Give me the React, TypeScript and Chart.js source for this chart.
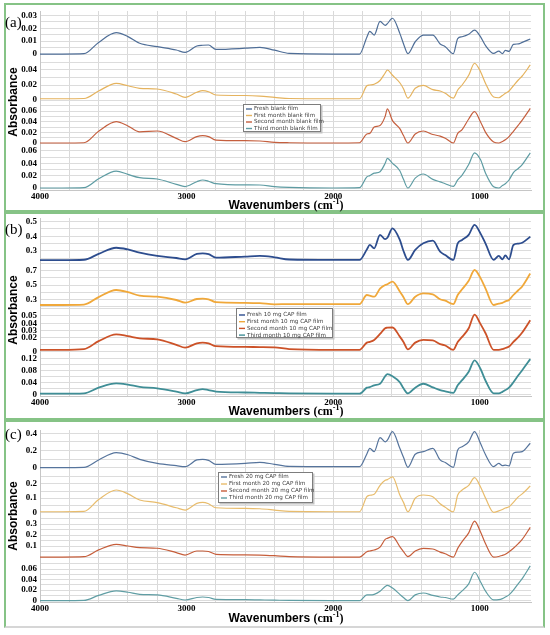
import React, { useEffect, useRef } from 'react';
import { Chart, registerables } from 'chart.js';

Chart.register(...registerables);

// FTIR spectra (absorbance vs wavenumber, cm-1)
const wavenumbers = [
  4000, 3850, 3700, 3600, 3480, 3400, 3320, 3200, 3070, 3010,
  2930, 2890, 2850, 2800, 2600, 2500, 2400, 2300, 2000, 1820,
  1770, 1750, 1720, 1680, 1645, 1630, 1595, 1545, 1520, 1490,
  1440, 1385, 1320, 1270, 1235, 1180, 1150, 1120, 1075, 1035,
  995, 960, 905, 870, 845, 825, 800, 770, 735, 710,
  655,
];

const xTickLabels = [4000, 3000, 2000, 1000];
const xGridLines = [4000, 3800, 3600, 3400, 3200, 3000, 2800, 2600, 2400, 2200, 2000, 1800, 1600, 1400, 1200, 1000, 800];

// (a) blank film
const blankFresh = [
  0, 0, 0.0003, 0.009, 0.0165, 0.0135, 0.0083, 0.0057, 0.0031, 0.0013,
  0.0062, 0.0068, 0.007, 0.0036, 0.0045, 0.0052, 0.003, 0.0005, 0, 0,
  0.013, 0.0175, 0.0147, 0.0252, 0.0222, 0.0235, 0.0277, 0.016, 0.008, 0.0003,
  0.0095, 0.0147, 0.0147, 0.0078, 0.0057, 0.0003, 0.012, 0.0134, 0.0153, 0.0185,
  0.0134, 0.0065, 0.0005, 0.0023, 0.0003, 0.0028, 0.002, 0.0075, 0.0078, 0.009,
  0.0116,
];
const blankMonth1 = [
  0.0017, 0.0017, 0.002, 0.012, 0.0222, 0.019, 0.0156, 0.0147, 0.008, 0.0036,
  0.0103, 0.0124, 0.011, 0.0067, 0.006, 0.0053, 0.0036, 0.002, 0.0017, 0.0017,
  0.019, 0.02, 0.021, 0.026, 0.036, 0.04, 0.033, 0.023, 0.015, 0.0025,
  0.0156, 0.0195, 0.0138, 0.012, 0.009, 0.0025, 0.0133, 0.02, 0.033, 0.049,
  0.038, 0.022, 0.004, 0.003, 0.006, 0.009, 0.012, 0.019, 0.027, 0.032,
  0.0467,
];
const blankMonth2 = [
  0, 0, 0.0005, 0.022, 0.04, 0.032, 0.021, 0.0225, 0.0088, 0.0025,
  0.012, 0.0137, 0.012, 0.0056, 0.0045, 0.0038, 0.0013, 0.0005, 0, 0.0005,
  0.017, 0.018, 0.03, 0.033, 0.05, 0.064, 0.042, 0.027, 0.014, 0,
  0.017, 0.0225, 0.016, 0.013, 0.009, 0, 0.018, 0.025, 0.045, 0.059,
  0.04, 0.02, 0.002, 0, 0.003, 0.006, 0.012, 0.022, 0.034, 0.043,
  0.065,
];
const blankMonth3 = [
  0, 0, 0.0005, 0.015, 0.0275, 0.022, 0.0167, 0.0146, 0.006, 0.0024,
  0.0102, 0.013, 0.011, 0.007, 0.005, 0.0049, 0.0022, 0.001, 0, 0.0005,
  0.018, 0.02, 0.024, 0.0265, 0.04, 0.048, 0.04, 0.028, 0.014, 0,
  0.016, 0.0227, 0.014, 0.01, 0.007, 0.0027, 0.013, 0.021, 0.038, 0.057,
  0.046, 0.024, 0.002, 0, 0.004, 0.007, 0.013, 0.025, 0.032, 0.038,
  0.057,
];

// (b) 10 mg CAP film
const cap10Fresh = [
  0.237, 0.237, 0.24, 0.28, 0.322, 0.31, 0.288, 0.266, 0.252, 0.243,
  0.28, 0.284, 0.278, 0.254, 0.262, 0.266, 0.257, 0.242, 0.239, 0.239,
  0.31, 0.341, 0.318, 0.41, 0.38, 0.39, 0.454, 0.375, 0.3, 0.239,
  0.307, 0.352, 0.37, 0.295, 0.272, 0.239, 0.352, 0.375, 0.41, 0.477,
  0.42, 0.35, 0.239, 0.266, 0.243, 0.27, 0.243, 0.341, 0.35, 0.356,
  0.397,
];
const cap10Month1 = [
  0.22, 0.22, 0.225, 0.33, 0.43, 0.4, 0.35, 0.336, 0.29, 0.253,
  0.304, 0.31, 0.3, 0.26, 0.25, 0.245, 0.23, 0.232, 0.232, 0.232,
  0.36, 0.35, 0.336, 0.45, 0.5, 0.51, 0.547, 0.41, 0.33, 0.232,
  0.336, 0.383, 0.37, 0.3, 0.28, 0.232, 0.36, 0.44, 0.56, 0.71,
  0.6, 0.45, 0.22, 0.24, 0.25, 0.27, 0.29, 0.36, 0.43, 0.48,
  0.66,
];
const cap10Month2 = [
  0.003, 0.003, 0.004, 0.015, 0.0245, 0.022, 0.019, 0.0175, 0.01, 0.006,
  0.012, 0.013, 0.012, 0.008, 0.007, 0.0068, 0.0065, 0.004, 0.003, 0.003,
  0.013, 0.014, 0.0167, 0.025, 0.033, 0.0337, 0.034, 0.0213, 0.014, 0.0037,
  0.013, 0.0167, 0.016, 0.011, 0.009, 0.003, 0.014, 0.021, 0.033, 0.052,
  0.039, 0.026, 0.003, 0.003, 0.004, 0.0055, 0.0075, 0.014, 0.021, 0.027,
  0.044,
];
const cap10Month3 = [
  0.002, 0.002, 0.003, 0.022, 0.036, 0.032, 0.025, 0.02, 0.009, 0.003,
  0.014, 0.0175, 0.014, 0.009, 0.006, 0.005, 0.004, 0.003, 0.002, 0.002,
  0.022, 0.024, 0.03, 0.035, 0.06, 0.067, 0.06, 0.04, 0.02, 0.003,
  0.022, 0.035, 0.023, 0.014, 0.01, 0.005, 0.03, 0.047, 0.075, 0.113,
  0.085, 0.045, 0.003, 0.003, 0.008, 0.014, 0.022, 0.04, 0.064, 0.08,
  0.117,
];

// (c) 20 mg CAP film
const cap20Fresh = [
  0, 0, 0.003, 0.09, 0.174, 0.15, 0.097, 0.05, 0.023, 0.012,
  0.09, 0.097, 0.085, 0.039, 0.05, 0.062, 0.039, 0.015, 0.012, 0.012,
  0.16, 0.225, 0.186, 0.35, 0.3, 0.32, 0.42, 0.225, 0.12, 0.004,
  0.156, 0.186, 0.225, 0.09, 0.06, 0.004, 0.205, 0.244, 0.3, 0.42,
  0.284, 0.15, 0.012, 0.05, 0.025, 0.03, 0.02, 0.167, 0.18, 0.186,
  0.284,
];
const cap20Month1 = [
  0.004, 0.004, 0.006, 0.09, 0.157, 0.13, 0.087, 0.068, 0.032, 0.016,
  0.063, 0.07, 0.06, 0.032, 0.028, 0.025, 0.016, 0.006, 0.004, 0.004,
  0.11, 0.12, 0.127, 0.19, 0.225, 0.23, 0.25, 0.122, 0.07, 0.004,
  0.099, 0.122, 0.11, 0.06, 0.035, 0.004, 0.122, 0.157, 0.19, 0.244,
  0.18, 0.1, 0, 0.01, 0.02, 0.03, 0.039, 0.07, 0.11, 0.13,
  0.185,
];
const cap20Month2 = [
  0, 0, 0.003, 0.065, 0.115, 0.1, 0.085, 0.08, 0.04, 0.018,
  0.055, 0.055, 0.05, 0.025, 0.02, 0.018, 0.012, 0.004, 0, 0,
  0.048, 0.055, 0.064, 0.09, 0.16, 0.17, 0.185, 0.094, 0.05, 0.003,
  0.055, 0.079, 0.073, 0.045, 0.03, 0, 0.079, 0.14, 0.22, 0.327,
  0.23, 0.12, 0, 0.005, 0.015, 0.025, 0.048, 0.08, 0.124, 0.16,
  0.27,
];
const cap20Month3 = [
  0, 0, 0.0005, 0.01, 0.0185, 0.016, 0.012, 0.011, 0.0045, 0.0013,
  0.006, 0.007, 0.006, 0.0026, 0.002, 0.0015, 0.001, 0.0005, 0, 0,
  0.011, 0.011, 0.012, 0.018, 0.027, 0.029, 0.024, 0.012, 0.006, 0,
  0.011, 0.0146, 0.01, 0.007, 0.006, 0.003, 0.011, 0.0185, 0.032, 0.054,
  0.036, 0.018, 0.0015, 0.002, 0.004, 0.007, 0.011, 0.02, 0.033, 0.042,
  0.066,
];

const blankLabels = ['Fresh blank film', 'First month blank film', 'Second month blank film', 'Third month blank film'];
const cap10Labels = ['Fresh 10 mg CAP film', 'First month 10 mg CAP film', 'Second month 10 mg CAP film', 'Third month 10 mg CAP film'];
const cap20Labels = ['Fresh 20 mg CAP film', 'First month 20 mg CAP film', 'Second month 20 mg CAP film', 'Third month 20 mg CAP film'];

// labelled y ticks per stacked axis, top trace first
const blankTicks = [[0, 0.01, 0.02, 0.03], [0, 0.02, 0.04], [0, 0.02, 0.04, 0.06], [0, 0.02, 0.04, 0.06]];
const cap10Ticks = [[0.3, 0.4, 0.5], [0.3, 0.5, 0.7], [0, 0.02, 0.03, 0.04, 0.05], [0, 0.04, 0.08, 0.12]];
const cap20Ticks = [[0, 0.2, 0.4], [0, 0.1, 0.2], [0.1, 0.2, 0.3], [0, 0.02, 0.04, 0.06]];

const CANVAS_LEFT = 6;
const CANVAS_WIDTH = 536;
const GREEN = '#86c386';

interface StackRange { min: number; max: number; step: number; weight: number }
interface LegendBox { x: number; y: number; w: number; h: number; first: number; row: number; text: number }

interface PanelProps {
  tag: string;
  series: number[][];
  labels: string[];
  yTicks: number[][];
  colors: string[];
  lineWidth: number;
  top: number;
  height: number;
  padTop: number;
  padBottom: number;
  stacks: StackRange[];
  legend: LegendBox;
  tagY: number;
  absY: number;
  titleY: number;
}

const boxLegend = {
  id: 'boxLegend',
  afterDraw(chart: any, _args: any, opts: any) {
    const { ctx } = chart;
    ctx.save();
    ctx.fillStyle = '#c4c4c4';
    ctx.fillRect(opts.x + 1.5, opts.y + 1.5, opts.w, opts.h);
    ctx.fillStyle = '#ffffff';
    ctx.fillRect(opts.x, opts.y, opts.w, opts.h);
    ctx.strokeStyle = '#7d7d7d';
    ctx.lineWidth = 1;
    ctx.strokeRect(opts.x + 0.5, opts.y + 0.5, opts.w - 1, opts.h - 1);
    ctx.font = '5.6px "DejaVu Sans"';
    ctx.textBaseline = 'middle';
    chart.data.datasets.forEach((ds: any, i: number) => {
      const cy = opts.y + opts.first + i * opts.row;
      ctx.strokeStyle = ds.borderColor;
      ctx.lineWidth = 1.4;
      ctx.beginPath();
      ctx.moveTo(opts.x + 3, cy);
      ctx.lineTo(opts.x + opts.text - 2, cy);
      ctx.stroke();
      ctx.fillStyle = '#3c3c3c';
      ctx.fillText(ds.label, opts.x + opts.text, cy);
    });
    ctx.restore();
  },
};

const tickFont = { family: '"Liberation Serif", "Times New Roman", serif', weight: 'bold' as const, size: 9 };

const SpectraPanel: React.FC<PanelProps> = (p) => {
  const chartRef = useRef<HTMLCanvasElement | null>(null);

  useEffect(() => {
    if (!chartRef.current) return;

    const scales: any = {
      x: {
        type: 'linear',
        reverse: true,
        min: 650,
        max: 4000,
        afterBuildTicks: (s: any) => {
          s.ticks = xGridLines.map((v) => ({ value: v }));
        },
        afterFit: (s: any) => {
          s.height = 12;
          s.paddingLeft = 0;
          s.paddingRight = 0;
        },
        ticks: {
          autoSkip: false,
          maxRotation: 0,
          padding: 1,
          color: '#000',
          font: tickFont,
          callback: (v: any) => (xTickLabels.includes(Number(v)) ? String(v) : ''),
        },
        grid: { color: '#d9d9d9', drawTicks: false },
        border: { color: '#c6c6c6' },
      },
    };

    // stacked y axes: the first one defined sits at the bottom
    [3, 2, 1, 0].forEach((i) => {
      const st = p.stacks[i];
      scales['y' + i] = {
        type: 'linear',
        position: 'left',
        stack: 'spectra',
        stackWeight: st.weight,
        min: st.min,
        max: st.max,
        afterFit: (s: any) => {
          s.width = 34;
          s.paddingTop = 0;
          s.paddingBottom = 0;
        },
        ticks: {
          stepSize: st.step,
          includeBounds: false,
          autoSkip: false,
          padding: 3,
          color: '#000',
          font: tickFont,
          callback: (v: any) =>
            p.yTicks[i].some((t) => Math.abs(t - Number(v)) < 1e-7) ? String(+Number(v).toFixed(3)) : '',
        },
        grid: { color: '#dcdcdc', drawTicks: false },
        border: { color: '#c6c6c6' },
      };
    });

    const myChart = new Chart(chartRef.current, {
      type: 'line',
      data: {
        datasets: p.series.map((vals, i) => ({
          label: p.labels[i],
          data: wavenumbers.map((w, j) => ({ x: w, y: vals[j] })),
          yAxisID: 'y' + i,
          borderColor: p.colors[i],
          backgroundColor: p.colors[i],
          borderWidth: p.lineWidth,
          pointRadius: 0,
          cubicInterpolationMode: 'monotone' as const,
          fill: false,
        })),
      },
      options: {
        animation: false,
        responsive: false,
        maintainAspectRatio: false,
        events: [],
        layout: { padding: { left: 0, right: 11, top: p.padTop, bottom: p.padBottom } },
        scales,
        plugins: {
          legend: { display: false },
          tooltip: { enabled: false },
          boxLegend: {
            ...p.legend,
            x: p.legend.x - CANVAS_LEFT,
            y: p.legend.y - p.top,
          },
        } as any,
      },
      plugins: [boxLegend],
    });

    return () => {
      myChart.destroy();
    };
  }, [p]);

  return (
    <>
      <canvas
        ref={chartRef}
        width={CANVAS_WIDTH}
        height={p.height}
        style={{ position: 'absolute', left: CANVAS_LEFT, top: p.top, width: CANVAS_WIDTH, height: p.height }}
      />
      <div
        style={{
          position: 'absolute',
          left: 5,
          top: p.tagY - 9,
          font: '15px "Liberation Serif", serif',
          lineHeight: '18px',
          color: '#000',
        }}
      >
        {p.tag}
      </div>
      <div
        style={{
          position: 'absolute',
          left: 13,
          top: p.absY,
          transform: 'translate(-50%, -50%) rotate(-90deg)',
          font: 'bold 12px "Liberation Sans", Arial, sans-serif',
          whiteSpace: 'nowrap',
          color: '#000',
        }}
      >
        Absorbance
      </div>
      <div
        style={{
          position: 'absolute',
          left: 286,
          top: p.titleY,
          transform: 'translate(-50%, -50%)',
          font: 'bold 12px "Liberation Sans", Arial, sans-serif',
          whiteSpace: 'nowrap',
          color: '#000',
        }}
      >
        Wavenumbers{' '}
        <span style={{ fontFamily: '"Liberation Serif", serif' }}>
          (cm<sup style={{ fontSize: 8 }}>-1</sup>)
        </span>
      </div>
    </>
  );
};

const panelA: PanelProps = {
  tag: '(a)',
  series: [blankFresh, blankMonth1, blankMonth2, blankMonth3],
  labels: blankLabels,
  yTicks: blankTicks,
  colors: ['#4f6e97', '#e5b35e', '#c55f3e', '#5e9ca3'],
  lineWidth: 1.2,
  top: 6,
  height: 200,
  padTop: 5,
  padBottom: 4,
  stacks: [
    { min: -0.0023, max: 0.0333, step: 0.005, weight: 46 },
    { min: -0.0013, max: 0.0573, step: 0.01, weight: 44 },
    { min: -0.0056, max: 0.0788, step: 0.01, weight: 45 },
    { min: -0.0032, max: 0.068, step: 0.01, weight: 44 },
  ],
  legend: { x: 243, y: 104, w: 78, h: 28, first: 5, row: 6.5, text: 11 },
  tagY: 22,
  absY: 102,
  titleY: 205,
};

const panelB: PanelProps = {
  tag: '(b)',
  series: [cap10Fresh, cap10Month1, cap10Month2, cap10Month3],
  labels: cap10Labels,
  yTicks: cap10Ticks,
  colors: ['#2d4d8e', '#f0a83a', '#cc5228', '#3f8e96'],
  lineWidth: 1.8,
  top: 214,
  height: 198,
  padTop: 4,
  padBottom: 4,
  stacks: [
    { min: 0.218, max: 0.5245, step: 0.05, weight: 45 },
    { min: 0.178, max: 0.808, step: 0.1, weight: 45 },
    { min: -0.0028, max: 0.0611, step: 0.01, weight: 46 },
    { min: -0.0057, max: 0.134, step: 0.02, weight: 42 },
  ],
  legend: { x: 236, y: 308, w: 97, h: 30, first: 7, row: 6.7, text: 11 },
  tagY: 229,
  absY: 310,
  titleY: 411,
};

const panelC: PanelProps = {
  tag: '(c)',
  series: [cap20Fresh, cap20Month1, cap20Month2, cap20Month3],
  labels: cap20Labels,
  yTicks: cap20Ticks,
  colors: ['#56749c', '#e8bc6c', '#c65e3b', '#609ea4'],
  lineWidth: 1.2,
  top: 421,
  height: 197,
  padTop: 9,
  padBottom: 4,
  stacks: [
    { min: -0.027, max: 0.438, step: 0.1, weight: 40 },
    { min: -0.019, max: 0.298, step: 0.05, weight: 45 },
    { min: -0.027, max: 0.382, step: 0.05, weight: 45 },
    { min: -0.0025, max: 0.0772, step: 0.01, weight: 42 },
  ],
  legend: { x: 218, y: 472, w: 95, h: 31, first: 5, row: 7, text: 11 },
  tagY: 434,
  absY: 516,
  titleY: 618,
};

const frame = (top: number, height: number, bottomColor: string): React.CSSProperties => ({
  position: 'absolute',
  left: 4,
  top,
  width: 541,
  height,
  boxSizing: 'border-box',
  borderLeft: `2px solid ${GREEN}`,
  borderRight: `2px solid ${GREEN}`,
  borderTop: `2px solid ${GREEN}`,
  borderBottom: `2px solid ${bottomColor}`,
});

const App: React.FC = () => {
  return (
    <div
      style={{
        position: 'absolute',
        left: 0,
        top: 0,
        width: 550,
        height: 635,
        background: '#fff',
        overflow: 'hidden',
      }}
    >
      <div style={frame(3, 209, GREEN)} />
      <div style={frame(212, 208, GREEN)} />
      <div style={frame(420, 208, '#d6d6d6')} />
      <SpectraPanel {...panelA} />
      <SpectraPanel {...panelB} />
      <SpectraPanel {...panelC} />
    </div>
  );
};

export default App;
